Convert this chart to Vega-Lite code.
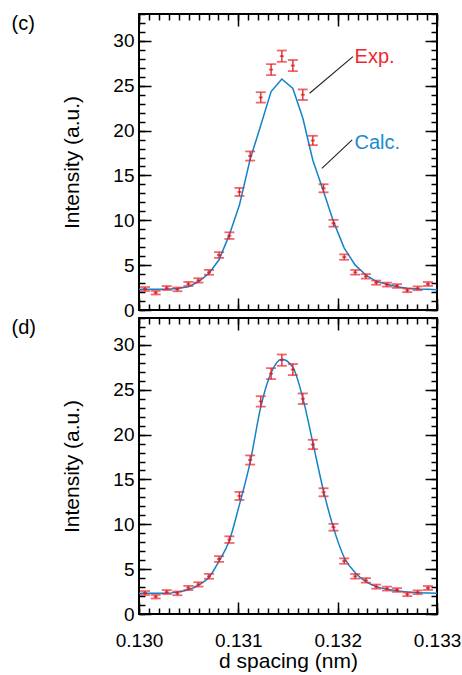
{
  "$schema": "https://vega.github.io/schema/vega-lite/v6.json",
  "padding": {"left": 10, "top": 12, "right": 5, "bottom": 5},
  "background": "white",
  "config": {
    "view": {"stroke": "black", "strokeWidth": 2},
    "font": "Liberation Sans",
    "axis": {"domain": false, "grid": false, "tickColor": "black", "tickWidth": 1.5, "labelColor": "black", "titleColor": "black", "labelFont": "Liberation Sans", "titleFont": "Liberation Sans", "titleFontWeight": "normal"},
    "text": {"font": "Liberation Sans"}
  },
  "datasets": {
    "exp": [
      {"d": 0.130060, "I": 2.34, "lo": 2.12, "hi": 2.56},
      {"d": 0.130168, "I": 1.93, "lo": 1.73, "hi": 2.13},
      {"d": 0.130279, "I": 2.45, "lo": 2.23, "hi": 2.67},
      {"d": 0.130386, "I": 2.30, "lo": 2.09, "hi": 2.51},
      {"d": 0.130497, "I": 2.90, "lo": 2.67, "hi": 3.13},
      {"d": 0.130598, "I": 3.30, "lo": 3.06, "hi": 3.54},
      {"d": 0.130705, "I": 4.20, "lo": 3.93, "hi": 4.47},
      {"d": 0.130806, "I": 6.13, "lo": 5.81, "hi": 6.45},
      {"d": 0.130910, "I": 8.29, "lo": 7.92, "hi": 8.66},
      {"d": 0.131011, "I": 13.16, "lo": 12.71, "hi": 13.61},
      {"d": 0.131119, "I": 17.17, "lo": 16.66, "hi": 17.68},
      {"d": 0.131226, "I": 23.70, "lo": 23.12, "hi": 24.28},
      {"d": 0.131330, "I": 26.80, "lo": 26.18, "hi": 27.42},
      {"d": 0.131438, "I": 28.30, "lo": 27.67, "hi": 28.93},
      {"d": 0.131549, "I": 27.25, "lo": 26.63, "hi": 27.87},
      {"d": 0.131649, "I": 24.00, "lo": 23.41, "hi": 24.59},
      {"d": 0.131750, "I": 18.90, "lo": 18.38, "hi": 19.42},
      {"d": 0.131858, "I": 13.57, "lo": 13.12, "hi": 14.02},
      {"d": 0.131958, "I": 9.67, "lo": 9.29, "hi": 10.05},
      {"d": 0.132066, "I": 5.90, "lo": 5.60, "hi": 6.20},
      {"d": 0.132177, "I": 4.20, "lo": 3.94, "hi": 4.46},
      {"d": 0.132284, "I": 3.75, "lo": 3.50, "hi": 4.00},
      {"d": 0.132388, "I": 3.05, "lo": 2.82, "hi": 3.28},
      {"d": 0.132496, "I": 2.83, "lo": 2.61, "hi": 3.05},
      {"d": 0.132597, "I": 2.68, "lo": 2.47, "hi": 2.89},
      {"d": 0.132701, "I": 2.19, "lo": 1.99, "hi": 2.39},
      {"d": 0.132805, "I": 2.42, "lo": 2.21, "hi": 2.63},
      {"d": 0.132909, "I": 2.90, "lo": 2.68, "hi": 3.12}
    ],
    "calcC": [
      {"d": 0.130000, "I": 2.3},
      {"d": 0.130060, "I": 2.3},
      {"d": 0.130168, "I": 2.3},
      {"d": 0.130279, "I": 2.3},
      {"d": 0.130386, "I": 2.4},
      {"d": 0.130497, "I": 2.6},
      {"d": 0.130598, "I": 3.15},
      {"d": 0.130705, "I": 4.1},
      {"d": 0.130806, "I": 5.6},
      {"d": 0.130910, "I": 8.4},
      {"d": 0.131011, "I": 11.7},
      {"d": 0.131119, "I": 16.8},
      {"d": 0.131226, "I": 20.6},
      {"d": 0.131330, "I": 24.35},
      {"d": 0.131438, "I": 25.76},
      {"d": 0.131549, "I": 24.7},
      {"d": 0.131649, "I": 21.4},
      {"d": 0.131750, "I": 16.7},
      {"d": 0.131858, "I": 13.2},
      {"d": 0.131958, "I": 9.85},
      {"d": 0.132066, "I": 6.9},
      {"d": 0.132177, "I": 5.0},
      {"d": 0.132284, "I": 3.9},
      {"d": 0.132388, "I": 3.2},
      {"d": 0.132496, "I": 2.86},
      {"d": 0.132597, "I": 2.6},
      {"d": 0.132701, "I": 2.42},
      {"d": 0.132805, "I": 2.34},
      {"d": 0.132909, "I": 2.3},
      {"d": 0.133000, "I": 2.27}
    ],
    "calcD": [
      {"d": 0.130000, "I": 2.3},
      {"d": 0.130060, "I": 2.3},
      {"d": 0.130168, "I": 2.3},
      {"d": 0.130279, "I": 2.3},
      {"d": 0.130386, "I": 2.45},
      {"d": 0.130497, "I": 2.7},
      {"d": 0.130598, "I": 3.2},
      {"d": 0.130705, "I": 4.1},
      {"d": 0.130806, "I": 5.9},
      {"d": 0.130910, "I": 8.2},
      {"d": 0.131011, "I": 12.2},
      {"d": 0.131119, "I": 16.9},
      {"d": 0.131226, "I": 23.1},
      {"d": 0.131330, "I": 26.9},
      {"d": 0.131438, "I": 28.4},
      {"d": 0.131549, "I": 27.5},
      {"d": 0.131649, "I": 24.1},
      {"d": 0.131750, "I": 19.1},
      {"d": 0.131858, "I": 13.7},
      {"d": 0.131958, "I": 9.6},
      {"d": 0.132066, "I": 6.3},
      {"d": 0.132177, "I": 4.6},
      {"d": 0.132284, "I": 3.6},
      {"d": 0.132388, "I": 3.05},
      {"d": 0.132496, "I": 2.75},
      {"d": 0.132597, "I": 2.6},
      {"d": 0.132701, "I": 2.45},
      {"d": 0.132805, "I": 2.38},
      {"d": 0.132909, "I": 2.33},
      {"d": 0.133000, "I": 2.3}
    ],
    "labC": [{"label": "(c)", "d": 0.128717, "I": 31.9}],
    "labD": [{"label": "(d)", "d": 0.128717, "I": 31.9}],
    "annExp": [{"label": "Exp.", "d": 0.13217, "I": 27.5}],
    "annCalc": [{"label": "Calc.", "d": 0.13217, "I": 18.0}],
    "lead": [
      {"d": 0.131717, "I": 24.16, "d2": 0.132154, "I2": 28.25},
      {"d": 0.131841, "I": 15.79, "d2": 0.132146, "I2": 18.96}
    ]
  },
  "vconcat": [
    {
      "width": 298,
      "height": 296,
      "resolve": {"axis": {"x": "independent", "y": "independent"}},
      "layer": [
        {
          "data": {"name": "calcC"},
          "mark": {"type": "line", "color": "#1183c9", "strokeWidth": 1.5},
          "encoding": {
            "x": {"field": "d", "type": "quantitative", "scale": {"domain": [0.13, 0.133], "nice": false, "zero": false},
              "axis": {"orient": "top", "values": [0.13,0.1301,0.1302,0.1303,0.1304,0.1305,0.1306,0.1307,0.1308,0.1309,0.131,0.1311,0.1312,0.1313,0.1314,0.1315,0.1316,0.1317,0.1318,0.1319,0.132,0.1321,0.1322,0.1323,0.1324,0.1325,0.1326,0.1327,0.1328,0.1329,0.133], "tickSize": -6, "labels": false, "title": null}},
            "y": {"field": "I", "type": "quantitative", "scale": {"domain": [0, 33], "nice": false, "zero": false},
              "axis": {"orient": "right", "values": [0,1,2,3,4,5,6,7,8,9,10,11,12,13,14,15,16,17,18,19,20,21,22,23,24,25,26,27,28,29,30,31,32,33], "tickSize": -6, "labels": false, "title": null}}
          }
        },
        {
          "data": {"name": "exp"},
          "mark": {"type": "rule", "color": "#e8262d", "strokeWidth": 1.4},
          "encoding": {
            "x": {"field": "d", "type": "quantitative", "scale": {"domain": [0.13, 0.133], "nice": false, "zero": false},
              "axis": {"orient": "bottom", "values": [0.13, 0.131, 0.132, 0.133], "tickSize": -12, "labels": false, "title": null}},
            "y": {"field": "lo", "type": "quantitative", "scale": {"domain": [0, 33], "nice": false, "zero": false},
              "axis": {"orient": "left", "values": [0,5,10,15,20,25,30], "tickSize": -12, "labelPadding": 17, "labelFontSize": 19, "title": "Intensity (a.u.)", "titleFontSize": 21, "titlePadding": 30}},
            "y2": {"field": "hi"}
          }
        },
        {
          "data": {"name": "exp"},
          "mark": {"type": "tick", "orient": "horizontal", "color": "#e8262d", "size": 10, "thickness": 1.8},
          "encoding": {
            "x": {"field": "d", "type": "quantitative", "scale": {"domain": [0.13, 0.133], "nice": false, "zero": false},
              "axis": {"orient": "bottom", "values": [0.13,0.1301,0.1302,0.1303,0.1304,0.1305,0.1306,0.1307,0.1308,0.1309,0.131,0.1311,0.1312,0.1313,0.1314,0.1315,0.1316,0.1317,0.1318,0.1319,0.132,0.1321,0.1322,0.1323,0.1324,0.1325,0.1326,0.1327,0.1328,0.1329,0.133], "tickSize": -6, "labels": false, "title": null}},
            "y": {"field": "lo", "type": "quantitative", "scale": {"domain": [0, 33], "nice": false, "zero": false},
              "axis": {"orient": "left", "values": [0,1,2,3,4,5,6,7,8,9,10,11,12,13,14,15,16,17,18,19,20,21,22,23,24,25,26,27,28,29,30,31,32,33], "tickSize": -6, "labels": false, "title": null}}
          }
        },
        {
          "data": {"name": "exp"},
          "mark": {"type": "tick", "orient": "horizontal", "color": "#e8262d", "size": 10, "thickness": 1.8},
          "encoding": {
            "x": {"field": "d", "type": "quantitative", "scale": {"domain": [0.13, 0.133], "nice": false, "zero": false},
              "axis": {"orient": "top", "values": [0.13, 0.131, 0.132, 0.133], "tickSize": -12, "labels": false, "title": null}},
            "y": {"field": "hi", "type": "quantitative", "scale": {"domain": [0, 33], "nice": false, "zero": false},
              "axis": {"orient": "right", "values": [0,5,10,15,20,25,30], "tickSize": -12, "labels": false, "title": null}}
          }
        },
        {
          "data": {"name": "exp"},
          "mark": {"type": "tick", "orient": "horizontal", "color": "#c8161d", "size": 4, "thickness": 1.8},
          "encoding": {
            "x": {"field": "d", "type": "quantitative", "scale": {"domain": [0.13, 0.133], "nice": false, "zero": false}, "axis": null},
            "y": {"field": "I", "type": "quantitative", "scale": {"domain": [0, 33], "nice": false, "zero": false}, "axis": null}
          }
        },
        {
          "data": {"name": "lead"},
          "mark": {"type": "rule", "color": "#222222", "strokeWidth": 1.1},
          "encoding": {
            "x": {"field": "d", "type": "quantitative", "scale": {"domain": [0.13, 0.133], "nice": false, "zero": false}, "axis": null},
            "y": {"field": "I", "type": "quantitative", "scale": {"domain": [0, 33], "nice": false, "zero": false}, "axis": null},
            "x2": {"field": "d2"},
            "y2": {"field": "I2"}
          }
        },
        {
          "data": {"name": "annExp"},
          "mark": {"type": "text", "color": "#ee2a31", "fontSize": 20, "align": "left", "baseline": "alphabetic"},
          "encoding": {
            "x": {"field": "d", "type": "quantitative", "scale": {"domain": [0.13, 0.133], "nice": false, "zero": false}, "axis": null},
            "y": {"field": "I", "type": "quantitative", "scale": {"domain": [0, 33], "nice": false, "zero": false}, "axis": null},
            "text": {"field": "label"}
          }
        },
        {
          "data": {"name": "annCalc"},
          "mark": {"type": "text", "color": "#1a8ad4", "fontSize": 20, "align": "left", "baseline": "alphabetic"},
          "encoding": {
            "x": {"field": "d", "type": "quantitative", "scale": {"domain": [0.13, 0.133], "nice": false, "zero": false}, "axis": null},
            "y": {"field": "I", "type": "quantitative", "scale": {"domain": [0, 33], "nice": false, "zero": false}, "axis": null},
            "text": {"field": "label"}
          }
        },
        {
          "data": {"name": "labC"},
          "mark": {"type": "text", "color": "black", "fontSize": 20, "align": "left", "baseline": "middle"},
          "encoding": {
            "x": {"field": "d", "type": "quantitative", "scale": {"domain": [0.13, 0.133], "nice": false, "zero": false}, "axis": null},
            "y": {"field": "I", "type": "quantitative", "scale": {"domain": [0, 33], "nice": false, "zero": false}, "axis": null},
            "text": {"field": "label"}
          }
        }
      ]
    },
    {
      "width": 298,
      "height": 296,
      "resolve": {"axis": {"x": "independent", "y": "independent"}},
      "layer": [
        {
          "data": {"name": "calcD"},
          "mark": {"type": "line", "color": "#1183c9", "strokeWidth": 1.5, "interpolate": "monotone"},
          "encoding": {
            "x": {"field": "d", "type": "quantitative", "scale": {"domain": [0.13, 0.133], "nice": false, "zero": false},
              "axis": {"orient": "top", "values": [0.13,0.1301,0.1302,0.1303,0.1304,0.1305,0.1306,0.1307,0.1308,0.1309,0.131,0.1311,0.1312,0.1313,0.1314,0.1315,0.1316,0.1317,0.1318,0.1319,0.132,0.1321,0.1322,0.1323,0.1324,0.1325,0.1326,0.1327,0.1328,0.1329,0.133], "tickSize": -6, "labels": false, "title": null}},
            "y": {"field": "I", "type": "quantitative", "scale": {"domain": [0, 33], "nice": false, "zero": false},
              "axis": {"orient": "right", "values": [0,1,2,3,4,5,6,7,8,9,10,11,12,13,14,15,16,17,18,19,20,21,22,23,24,25,26,27,28,29,30,31,32,33], "tickSize": -6, "labels": false, "title": null}}
          }
        },
        {
          "data": {"name": "exp"},
          "mark": {"type": "rule", "color": "#e8262d", "strokeWidth": 1.4},
          "encoding": {
            "x": {"field": "d", "type": "quantitative", "scale": {"domain": [0.13, 0.133], "nice": false, "zero": false},
              "axis": {"orient": "bottom", "values": [0.13, 0.131, 0.132, 0.133], "format": ".3f", "tickSize": -12, "labelPadding": 29, "labelFlush": false, "labelOverlap": false, "labelFontSize": 19, "title": "d spacing (nm)", "titleFontSize": 21, "titlePadding": 0}},
            "y": {"field": "lo", "type": "quantitative", "scale": {"domain": [0, 33], "nice": false, "zero": false},
              "axis": {"orient": "left", "values": [0,5,10,15,20,25,30], "tickSize": -12, "labelPadding": 17, "labelFontSize": 19, "title": "Intensity (a.u.)", "titleFontSize": 21, "titlePadding": 30}},
            "y2": {"field": "hi"}
          }
        },
        {
          "data": {"name": "exp"},
          "mark": {"type": "tick", "orient": "horizontal", "color": "#e8262d", "size": 10, "thickness": 1.8},
          "encoding": {
            "x": {"field": "d", "type": "quantitative", "scale": {"domain": [0.13, 0.133], "nice": false, "zero": false},
              "axis": {"orient": "bottom", "values": [0.13,0.1301,0.1302,0.1303,0.1304,0.1305,0.1306,0.1307,0.1308,0.1309,0.131,0.1311,0.1312,0.1313,0.1314,0.1315,0.1316,0.1317,0.1318,0.1319,0.132,0.1321,0.1322,0.1323,0.1324,0.1325,0.1326,0.1327,0.1328,0.1329,0.133], "tickSize": -6, "labels": false, "title": null}},
            "y": {"field": "lo", "type": "quantitative", "scale": {"domain": [0, 33], "nice": false, "zero": false},
              "axis": {"orient": "left", "values": [0,1,2,3,4,5,6,7,8,9,10,11,12,13,14,15,16,17,18,19,20,21,22,23,24,25,26,27,28,29,30,31,32,33], "tickSize": -6, "labels": false, "title": null}}
          }
        },
        {
          "data": {"name": "exp"},
          "mark": {"type": "tick", "orient": "horizontal", "color": "#e8262d", "size": 10, "thickness": 1.8},
          "encoding": {
            "x": {"field": "d", "type": "quantitative", "scale": {"domain": [0.13, 0.133], "nice": false, "zero": false},
              "axis": {"orient": "top", "values": [0.13, 0.131, 0.132, 0.133], "tickSize": -12, "labels": false, "title": null}},
            "y": {"field": "hi", "type": "quantitative", "scale": {"domain": [0, 33], "nice": false, "zero": false},
              "axis": {"orient": "right", "values": [0,5,10,15,20,25,30], "tickSize": -12, "labels": false, "title": null}}
          }
        },
        {
          "data": {"name": "exp"},
          "mark": {"type": "tick", "orient": "horizontal", "color": "#c8161d", "size": 4, "thickness": 1.8},
          "encoding": {
            "x": {"field": "d", "type": "quantitative", "scale": {"domain": [0.13, 0.133], "nice": false, "zero": false}, "axis": null},
            "y": {"field": "I", "type": "quantitative", "scale": {"domain": [0, 33], "nice": false, "zero": false}, "axis": null}
          }
        },
        {
          "data": {"name": "labD"},
          "mark": {"type": "text", "color": "black", "fontSize": 20, "align": "left", "baseline": "middle"},
          "encoding": {
            "x": {"field": "d", "type": "quantitative", "scale": {"domain": [0.13, 0.133], "nice": false, "zero": false}, "axis": null},
            "y": {"field": "I", "type": "quantitative", "scale": {"domain": [0, 33], "nice": false, "zero": false}, "axis": null},
            "text": {"field": "label"}
          }
        }
      ]
    }
  ],
  "spacing": 8,
  "bounds": "flush"
}
